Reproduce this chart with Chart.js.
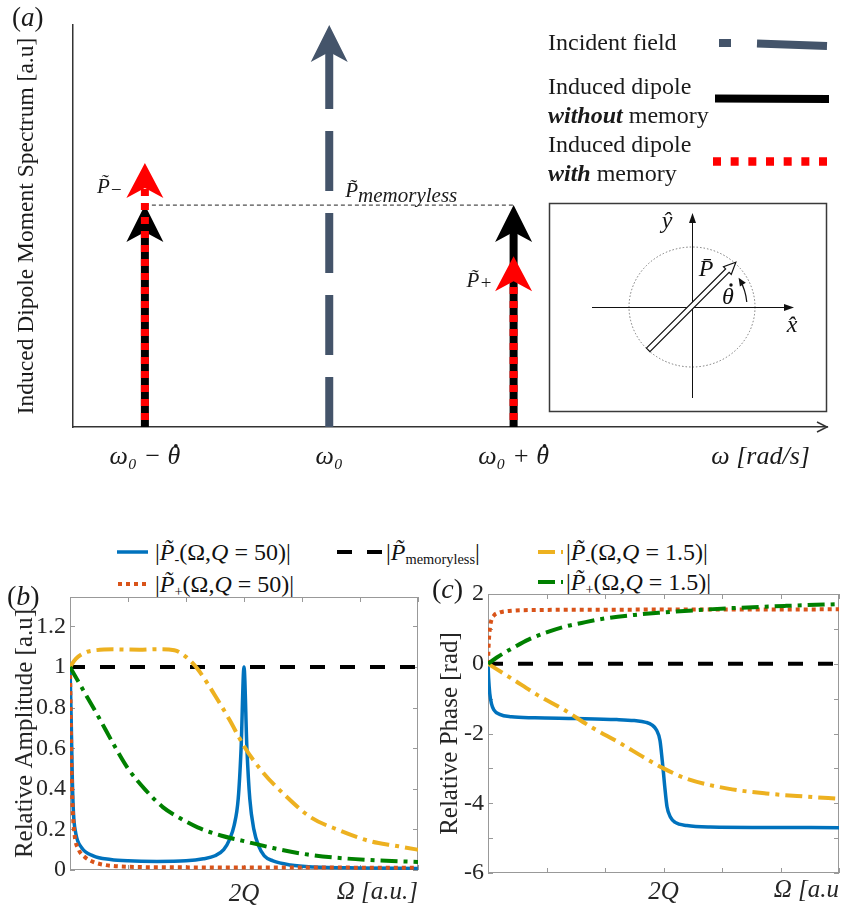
<!DOCTYPE html>
<html>
<head>
<meta charset="utf-8">
<title>Induced dipole moment spectrum</title>
<script src="https://cdn.jsdelivr.net/npm/chart.js@4.4.1/dist/chart.umd.min.js"></script>
<style>
html, body { margin: 0; padding: 0; background: #fff; }
body { position: relative; width: 846px; height: 911px; overflow: hidden; font-family: "Liberation Serif", serif; color: #111; }
canvas { position: absolute; }
#chartA { left: 0; top: 0; }
#chartB { left: 0; top: 560px; }
#chartC { left: 425px; top: 560px; }
.leg { position: absolute; height: 26px; line-height: 26px; font-size: 24px; white-space: nowrap; font-family: "Liberation Serif", serif; }
.leg sub { font-size: 0.6em; vertical-align: -0.25em; line-height: 0; }
</style>
</head>
<body>
<canvas id="chartA" width="846" height="480"></canvas>
<div id="legendBC"></div>
<canvas id="chartB" width="425" height="351"></canvas>
<canvas id="chartC" width="421" height="351"></canvas>
<script>
var SERIF = '"Liberation Serif", "Times New Roman", serif';

// ---------- panel (a): line spectrum ----------
var freqPos = [-1, 0, 1];
var freqLabels = ['ω₀ − θ', 'ω₀', 'ω₀ + θ'];   // θ gets its dot drawn on top
var incidentAmp = [null, 1.0, null];
var noMemoryAmp = [0.552, null, 0.552];
var memoryAmp = [0.657, null, 0.425];
var tickValsA = [-1, 0, 1, 2.34];
var tickLabelsA = freqLabels.concat(['ω [rad/s]']);

// ---------- panels (b), (c): [Ω, value] ----------
var omegaMarks = [0, 1, 2, 3, 4, 5, 6];
var omegaTicks = [3];
var omegaTickLabels = ['2Q'];
var ampTicks = [0, 0.2, 0.4, 0.6, 0.8, 1, 1.2];
var phaseTicks = [-6, -4, -2, 0, 2];
var phaseMarks = [-6, -5, -4, -3, -2, -1, 0, 1, 2];

var ampMinus50 = [[0,1],[0.02,0.75],[0.04,0.45],[0.06,0.28],[0.1,0.18],[0.2,0.11],[0.4,0.07],[0.7,0.052],[1.0,0.045],[1.5,0.042],[2.0,0.045],[2.3,0.055],[2.5,0.07],[2.65,0.1],[2.75,0.15],[2.83,0.22],[2.9,0.35],[2.95,0.6],[3.0,1.0],[3.05,0.6],[3.1,0.35],[3.17,0.2],[3.25,0.12],[3.35,0.07],[3.5,0.045],[3.8,0.025],[4.2,0.015],[5.0,0.01],[6.0,0.008]];
var ampPlus50 = [[0,1],[0.01,0.8],[0.03,0.45],[0.05,0.28],[0.08,0.17],[0.15,0.1],[0.25,0.065],[0.4,0.04],[0.6,0.025],[1.0,0.016],[2.0,0.013],[3.0,0.012],[4.0,0.012],[6.0,0.011]];
var ampMemoryless = [[0,1],[6,1]];
var ampMinus15 = [[0,1],[0.1,1.04],[0.25,1.07],[0.45,1.083],[0.8,1.087],[1.2,1.085],[1.5,1.088],[1.8,1.083],[2.0,1.05],[2.2,0.99],[2.5,0.86],[2.75,0.74],[3.0,0.61],[3.3,0.49],[3.7,0.37],[4.15,0.26],[4.65,0.195],[5.2,0.14],[5.6,0.12],[6.0,0.1]];
var ampPlus15 = [[0,1],[0.2,0.9],[0.5,0.75],[0.75,0.62],[1.0,0.5],[1.3,0.395],[1.6,0.31],[1.9,0.255],[2.2,0.21],[2.6,0.17],[3.0,0.142],[3.5,0.108],[4.1,0.076],[4.7,0.058],[5.25,0.048],[6.0,0.04]];

var phaseMinus50 = [[0,0],[0.01,-0.4],[0.03,-0.85],[0.06,-1.15],[0.1,-1.32],[0.2,-1.45],[0.4,-1.52],[0.8,-1.55],[1.5,-1.57],[2.2,-1.6],[2.5,-1.63],[2.7,-1.68],[2.8,-1.75],[2.88,-1.9],[2.94,-2.2],[2.98,-2.8],[3.0,-3.14],[3.02,-3.5],[3.06,-4.1],[3.12,-4.4],[3.2,-4.55],[3.4,-4.64],[3.8,-4.68],[6.0,-4.7]];
var phasePlus50 = [[0,0],[0.01,0.5],[0.025,0.9],[0.05,1.2],[0.1,1.38],[0.2,1.47],[0.4,1.52],[0.8,1.54],[2.0,1.55],[6.0,1.56]];
var phaseMemoryless = [[0,0],[6,0]];
var phaseMinus15 = [[0,0],[0.4,-0.42],[0.85,-0.9],[1.3,-1.32],[1.75,-1.8],[2.25,-2.27],[2.7,-2.72],[3.0,-3.0],[3.4,-3.3],[4.1,-3.58],[4.75,-3.72],[5.45,-3.81],[6.0,-3.87]];
var phasePlus15 = [[0,0],[0.15,0.18],[0.4,0.43],[0.7,0.7],[1.0,0.9],[1.3,1.06],[1.6,1.17],[2.0,1.3],[2.5,1.4],[3.0,1.47],[3.5,1.53],[4.1,1.59],[5.1,1.66],[6.0,1.71]];

var styles = {
    minus50:    { color: '#0072BD', dash: [],           width: 3.5, order: 5, label: '|<i>P&#771;</i><sub>-</sub>(Ω,<i>Q</i> = 50)|' },
    plus50:     { color: '#D95319', dash: [4, 4],       width: 4,   order: 4, label: '|<i>P&#771;</i><sub>+</sub>(Ω,<i>Q</i> = 50)|' },
    memoryless: { color: '#000000', dash: [15, 15],     width: 4,   order: 3, label: '|<i>P&#771;</i><sub>memoryless</sub>|' },
    minus15:    { color: '#EDB120', dash: [17, 6, 4, 6], width: 4,  order: 2, label: '|<i>P&#771;</i><sub>-</sub>(Ω,<i>Q</i> = 1.5)|' },
    plus15:     { color: '#008000', dash: [17, 6, 4, 6], width: 4,  order: 1, label: '|<i>P&#771;</i><sub>+</sub>(Ω,<i>Q</i> = 1.5)|' }
};

// ---------- helpers ----------
function pts(list) {
    return list.map(function (p) { return { x: p[0], y: p[1] }; });
}

function rich(ctx, x, y, parts, align) {
    var total = 0;
    parts.forEach(function (p) { ctx.font = p.f; p.w = ctx.measureText(p.t).width; total += p.w; });
    var cx = align === 'center' ? x - total / 2 : x;
    parts.forEach(function (p) {
        ctx.font = p.f;
        ctx.fillText(p.t, cx, y + (p.dy || 0));
        cx += p.w;
    });
}

function dot(ctx, x, y, r) {
    ctx.beginPath();
    ctx.arc(x, y, r, 0, Math.PI * 2);
    ctx.fill();
}

function chevron(ctx, x, y, w, h, n, color) {
    ctx.beginPath();
    ctx.moveTo(x, y);
    ctx.lineTo(x + w / 2, y + h);
    ctx.lineTo(x, y + n);
    ctx.lineTo(x - w / 2, y + h);
    ctx.closePath();
    ctx.fillStyle = color;
    ctx.fill();
}

// arrow heads on top of the vertical lines of panel (a); the shaft stops at the notch
var arrowHeads = {
    id: 'arrowHeads',
    beforeDatasetDraw: function (chart, args) {
        var ds = chart.data.datasets[args.index];
        if (!ds.head) return;
        var p = args.meta.data[args.meta.data.length - 1];
        chart.ctx.save();
        chart.ctx.beginPath();
        chart.ctx.rect(0, p.y + ds.head.n - 1, chart.width, chart.height);
        chart.ctx.clip();
    },
    afterDatasetDraw: function (chart, args) {
        var ds = chart.data.datasets[args.index];
        if (!ds.head) return;
        chart.ctx.restore();
        var p = args.meta.data[args.meta.data.length - 1];
        chevron(chart.ctx, p.x, p.y, ds.head.w, ds.head.h, ds.head.n, ds.borderColor);
    }
};

// legend, inset and labels of panel (a)
var panelA = {
    id: 'panelA',
    afterDraw: function (chart) {
        var ctx = chart.ctx, a = chart.chartArea, xs = chart.scales.x, ys = chart.scales.y;
        var R24 = '24px ' + SERIF, BI24 = 'bold italic 24px ' + SERIF;
        var I21 = 'italic 21px ' + SERIF, I19 = 'italic 19px ' + SERIF;
        ctx.save();
        ctx.textAlign = 'left';
        ctx.textBaseline = 'alphabetic';
        ctx.fillStyle = '#1a1a1a';

        // arrow at the end of the frequency axis
        ctx.strokeStyle = '#333';
        ctx.lineWidth = 1.5;
        ctx.beginPath();
        ctx.moveTo(a.right - 10, a.bottom - 5);
        ctx.lineTo(a.right, a.bottom);
        ctx.lineTo(a.right - 10, a.bottom + 5);
        ctx.stroke();

        // dots of θ in the tick labels
        var tf = xs.options.ticks.font;
        ctx.font = 'italic ' + tf.size + 'px ' + SERIF;
        var ly = xs.top + xs.options.ticks.padding + tf.size * 0.6;
        [0, 2].forEach(function (i) {
            var w = ctx.measureText(tickLabelsA[i]).width;
            var tw = ctx.measureText('θ').width;
            var px = xs.getPixelForValue(tickValsA[i]) + w / 2 - tw / 2 + 2;
            dot(ctx, px, ly - tf.size * 0.45, 1.9);
        });

        rich(ctx, 12, 26, [{ t: '(', f: '27px ' + SERIF }, { t: 'a', f: 'italic 27px ' + SERIF }, { t: ')', f: '27px ' + SERIF }]);

        // labels next to the arrows
        var xL = xs.getPixelForValue(freqPos[0]), xC = xs.getPixelForValue(freqPos[1]), xR = xs.getPixelForValue(freqPos[2]);
        rich(ctx, xL - 48, ys.getPixelForValue(memoryAmp[0]) + 30, [{ t: 'P\u0303', f: I21 }, { t: '\u2212', f: I19, dy: 3 }]);
        rich(ctx, xC + 16, ys.getPixelForValue(noMemoryAmp[0]) - 8, [{ t: 'P\u0303', f: I21 }, { t: 'memoryless', f: 'italic 21px ' + SERIF, dy: 5 }]);
        rich(ctx, xR - 47, ys.getPixelForValue(memoryAmp[2]) + 31, [{ t: 'P\u0303', f: I21 }, { t: '+', f: I19, dy: 2 }]);

        // legend
        rich(ctx, 548, 50, [{ t: 'Incident field', f: R24 }]);
        rich(ctx, 548, 94, [{ t: 'Induced dipole', f: R24 }]);
        rich(ctx, 548, 123, [{ t: 'without', f: BI24 }, { t: ' memory', f: R24 }]);
        rich(ctx, 548, 152, [{ t: 'Induced dipole', f: R24 }]);
        rich(ctx, 548, 181, [{ t: 'with', f: BI24 }, { t: ' memory', f: R24 }]);

        ctx.fillStyle = '#44546A';
        ctx.fillRect(719, 39, 12, 8);
        ctx.strokeStyle = '#44546A';
        ctx.lineWidth = 8;
        ctx.beginPath(); ctx.moveTo(757, 43.5); ctx.lineTo(827, 46); ctx.stroke();
        ctx.strokeStyle = '#000';
        ctx.beginPath(); ctx.moveTo(715, 98.5); ctx.lineTo(829, 99); ctx.stroke();
        ctx.strokeStyle = '#FF0000';
        ctx.lineWidth = 8.5;
        ctx.setLineDash([8, 9.67]);
        ctx.beginPath(); ctx.moveTo(713, 161.5); ctx.lineTo(827, 161.5); ctx.stroke();
        ctx.setLineDash([]);

        // inset: rotating dipole
        ctx.strokeStyle = '#3a3a3a';
        ctx.lineWidth = 1.5;
        ctx.strokeRect(549.5, 203.5, 277, 208);
        var cx = 692, cy = 307;
        ctx.strokeStyle = '#777';
        ctx.lineWidth = 1;
        ctx.setLineDash([1.5, 2]);
        ctx.beginPath(); ctx.ellipse(cx, cy, 63, 60, 0, 0, Math.PI * 2); ctx.stroke();
        ctx.setLineDash([]);
        ctx.strokeStyle = '#111';
        ctx.fillStyle = '#111';
        ctx.lineWidth = 1;
        ctx.beginPath();
        ctx.moveTo(592, cy + 0.5); ctx.lineTo(788, cy + 0.5);
        ctx.moveTo(cx + 0.5, 398); ctx.lineTo(cx + 0.5, 220);
        ctx.stroke();
        ctx.beginPath(); ctx.moveTo(794, cy + 0.5); ctx.lineTo(784, cy - 3); ctx.lineTo(784, cy + 4); ctx.closePath(); ctx.fill();
        ctx.beginPath(); ctx.moveTo(cx + 0.5, 213); ctx.lineTo(cx - 3, 223); ctx.lineTo(cx + 4, 223); ctx.closePath(); ctx.fill();

        // dipole: hollow arrow at 45 degrees
        var ux = Math.SQRT1_2, uy = -Math.SQRT1_2, vx = Math.SQRT1_2, vy = Math.SQRT1_2;
        var shape = [[-62, -2.5], [50, -2.5], [50, -5.5], [62, 0], [50, 5.5], [50, 2.5], [-62, 2.5]];
        ctx.beginPath();
        shape.forEach(function (s, i) {
            var px = cx + s[0] * ux + s[1] * vx, py = cy - 1 + s[0] * uy + s[1] * vy;
            if (i === 0) ctx.moveTo(px, py); else ctx.lineTo(px, py);
        });
        ctx.closePath();
        ctx.fillStyle = '#fff';
        ctx.fill();
        ctx.lineWidth = 1.2;
        ctx.stroke();

        // rotation arrow
        ctx.beginPath(); ctx.arc(cx, cy, 55, -0.09, -0.52, true); ctx.stroke();
        var ang = -0.56, tx = cx + 55 * Math.cos(ang), ty = cy + 55 * Math.sin(ang);
        var dx = Math.sin(ang), dy = -Math.cos(ang);
        ctx.fillStyle = '#111';
        ctx.beginPath();
        ctx.moveTo(tx, ty);
        ctx.lineTo(tx - 8 * dx + 3.5 * dy, ty - 8 * dy - 3.5 * dx);
        ctx.lineTo(tx - 8 * dx - 3.5 * dy, ty - 8 * dy + 3.5 * dx);
        ctx.closePath();
        ctx.fill();

        ctx.textAlign = 'center';
        ctx.textBaseline = 'middle';
        ctx.font = 'italic 24px ' + SERIF;
        ctx.fillText('y\u0302', 667, 222);
        ctx.fillText('x\u0302', 792, 326);
        ctx.fillText('P\u0304', 706, 270);
        ctx.fillText('θ', 728, 298);
        dot(ctx, 731, 285, 1.7);
        ctx.restore();
    }
};

// MATLAB-like box with inward tick marks, plus the panel tag
var matlabAxes = {
    id: 'matlabAxes',
    beforeDatasetsDraw: function (chart, args, o) {
        var ctx = chart.ctx, a = chart.chartArea, xs = chart.scales.x, ys = chart.scales.y;
        ctx.save();
        ctx.strokeStyle = o.color;
        ctx.lineWidth = 1;
        ctx.strokeRect(a.left + 0.5, a.top + 0.5, a.right - a.left - 1, a.bottom - a.top - 1);
        ctx.beginPath();
        o.xMarks.forEach(function (v) {
            var px = Math.round(xs.getPixelForValue(v)) + 0.5;
            ctx.moveTo(px, a.bottom); ctx.lineTo(px, a.bottom - o.len);
            ctx.moveTo(px, a.top); ctx.lineTo(px, a.top + o.len);
        });
        o.yMarks.forEach(function (v) {
            var py = Math.round(ys.getPixelForValue(v)) + 0.5;
            ctx.moveTo(a.left, py); ctx.lineTo(a.left + o.len, py);
            ctx.moveTo(a.right, py); ctx.lineTo(a.right - o.len, py);
        });
        ctx.stroke();
        ctx.restore();
    },
    afterDraw: function (chart, args, o) {
        var ctx = chart.ctx;
        ctx.save();
        ctx.fillStyle = '#1a1a1a';
        ctx.textBaseline = 'middle';
        rich(ctx, o.tagX, o.tagY, [{ t: '(', f: '28px ' + SERIF }, { t: o.tag, f: 'italic 28px ' + SERIF }, { t: ')', f: '28px ' + SERIF }]);
        ctx.restore();
    }
};

// ---------- panel (a) ----------
function vline(pos, top) {
    return [{ x: pos, y: 0 }, { x: pos, y: top }];
}

var datasetsA = [{
    data: [{ x: freqPos[0], y: noMemoryAmp[0] }, { x: freqPos[2], y: noMemoryAmp[2] }],
    borderColor: '#222', borderWidth: 1, borderDash: [4, 3], order: 5
}];
freqPos.forEach(function (pos, i) {
    if (incidentAmp[i] != null) {
        datasetsA.push({ data: vline(pos, incidentAmp[i]), borderColor: '#44546A', borderWidth: 8,
            borderDash: [60, 22], borderDashOffset: 10, order: 4, head: { w: 37, h: 37, n: 27 } });
    }
    if (noMemoryAmp[i] != null) {
        datasetsA.push({ data: vline(pos, noMemoryAmp[i]), borderColor: '#000000', borderWidth: 8,
            order: 3, head: { w: 37, h: 37, n: 27 } });
    }
    if (memoryAmp[i] != null) {
        datasetsA.push({ data: vline(pos, memoryAmp[i]), borderColor: '#FF0000', borderWidth: 8,
            borderDash: [7, 7], borderDashOffset: 7, order: 2, head: { w: 37, h: 35, n: 25 } });
    }
});

new Chart(document.getElementById('chartA'), {
    type: 'line',
    data: { datasets: datasetsA },
    plugins: [arrowHeads, panelA],
    options: {
        responsive: false,
        animation: false,
        events: [],
        layout: { padding: { top: 25, right: 19, left: 0, bottom: 0 } },
        elements: { point: { radius: 0 }, line: { tension: 0, borderCapStyle: 'butt' } },
        datasets: { line: { clip: false } },
        plugins: { legend: { display: false }, tooltip: { enabled: false } },
        scales: {
            x: {
                type: 'linear', min: -1.39, max: 2.70,
                grid: { display: false, drawTicks: false },
                border: { display: true, color: '#333', width: 1.5 },
                afterBuildTicks: function (s) { s.ticks = tickValsA.map(function (v) { return { value: v }; }); },
                ticks: {
                    autoSkip: false, maxRotation: 0, padding: 15, color: '#1a1a1a',
                    font: { family: SERIF, size: 26, style: 'italic' },
                    callback: function (v, i) { return tickLabelsA[i]; }
                },
                afterFit: function (s) { s.height = 53; }
            },
            y: {
                min: 0, max: 1,
                grid: { display: false, drawTicks: false },
                border: { display: true, color: '#333', width: 1.5 },
                ticks: { display: false },
                title: { display: true, text: 'Induced Dipole Moment Spectrum [a.u]', color: '#1a1a1a',
                    font: { family: SERIF, size: 23.5 }, padding: { top: 13, bottom: 0 } },
                afterFit: function (s) { s.width = 73; }
            }
        }
    }
});

// ---------- panels (b) and (c) ----------
function seriesSet(list) {
    return list.map(function (item) {
        var st = styles[item[0]];
        return {
            data: pts(item[1]), borderColor: st.color, borderWidth: st.width, borderDash: st.dash,
            order: st.order, cubicInterpolationMode: 'monotone'
        };
    });
}

function bottomChart(id, sets, yOpt, box, xTitle, pad) {
    return new Chart(document.getElementById(id), {
        type: 'line',
        data: { datasets: seriesSet(sets) },
        plugins: [matlabAxes],
        options: {
            responsive: false,
            animation: false,
            events: [],
            layout: { padding: { top: pad.top, right: 7, left: 0, bottom: 0 } },
            elements: { point: { radius: 0 }, line: { borderCapStyle: 'butt', borderJoinStyle: 'round' } },
            plugins: { legend: { display: false }, tooltip: { enabled: false }, matlabAxes: box },
            scales: {
                x: {
                    type: 'linear', min: 0, max: 6,
                    grid: { display: false, drawTicks: false },
                    border: { display: false },
                    afterBuildTicks: function (s) { s.ticks = omegaTicks.map(function (v) { return { value: v }; }); },
                    ticks: {
                        autoSkip: false, maxRotation: 0, padding: pad.xTick, color: '#262626',
                        font: { family: SERIF, size: 25, style: 'italic' },
                        callback: function (v, i) { return omegaTickLabels[i]; }
                    },
                    title: { display: true, text: xTitle, align: 'end', color: '#262626',
                        font: { family: SERIF, size: 25, style: 'italic' }, padding: { top: 0, bottom: pad.xTitle } },
                    afterFit: function (s) { s.height = pad.xh; }
                },
                y: {
                    min: yOpt.min, max: yOpt.max,
                    grid: { display: false, drawTicks: false },
                    border: { display: false },
                    afterBuildTicks: function (s) { s.ticks = yOpt.ticks.map(function (v) { return { value: v }; }); },
                    ticks: {
                        padding: 4, color: '#262626', font: { family: SERIF, size: 24 },
                        callback: function (v) { return String(Math.round(v * 10) / 10); }
                    },
                    title: { display: true, text: yOpt.title, color: '#262626',
                        font: { family: SERIF, size: 25 }, padding: { top: 10, bottom: 0 } },
                    afterFit: function (s) { s.width = pad.yw; }
                }
            }
        }
    });
}

bottomChart('chartB',
    [['minus50', ampMinus50], ['plus50', ampPlus50], ['memoryless', ampMemoryless], ['minus15', ampMinus15], ['plus15', ampPlus15]],
    { min: 0, max: 1.345, ticks: ampTicks, title: 'Relative Amplitude [a.u]' },
    { color: '#999', len: 5, xMarks: omegaMarks, yMarks: ampTicks, tag: 'b', tagX: 7, tagY: 38 },
    'Ω [a.u.]',
    { top: 37, xh: 41, yw: 70, xTick: 9, xTitle: 4 });

bottomChart('chartC',
    [['minus50', phaseMinus50], ['plus50', phasePlus50], ['memoryless', phaseMemoryless], ['minus15', phaseMinus15], ['plus15', phasePlus15]],
    { min: -6, max: 2, ticks: phaseTicks, title: 'Relative Phase [rad]' },
    { color: '#999', len: 5, xMarks: omegaMarks, yMarks: phaseMarks, tag: 'c', tagX: 7, tagY: 31 },
    'Ω [a.u',
    { top: 34, xh: 38, yw: 63, xTick: 4, xTitle: 6 });

// ---------- shared legend of (b) and (c) ----------
var legendPlace = {
    minus50:    { left: 117, cy: 552, w: 31, text: 155 },
    plus50:     { left: 118, cy: 584, w: 29, text: 155 },
    memoryless: { left: 337, cy: 552, w: 45, text: 386 },
    minus15:    { left: 538, cy: 552, w: 25, text: 566 },
    plus15:     { left: 538, cy: 582, w: 25, text: 566 }
};
var legendBox = document.getElementById('legendBC');
Object.keys(legendPlace).forEach(function (k) {
    var st = styles[k], pl = legendPlace[k];
    var sample = document.createElement('div');
    sample.className = 'leg';
    sample.style.left = pl.left + 'px';
    sample.style.top = (pl.cy - 13) + 'px';
    sample.innerHTML = '<svg width="' + pl.w + '" height="26"><line x1="0" y1="13" x2="' + pl.w + '" y2="13" stroke="' + st.color +
        '" stroke-width="' + st.width + '" stroke-dasharray="' + (st.dash.length ? st.dash.join(' ') : 'none') + '"/></svg>';
    legendBox.appendChild(sample);
    var label = document.createElement('div');
    label.className = 'leg';
    label.style.left = pl.text + 'px';
    label.style.top = (pl.cy - 13) + 'px';
    label.innerHTML = st.label;
    legendBox.appendChild(label);
});
</script>
</body>
</html>
